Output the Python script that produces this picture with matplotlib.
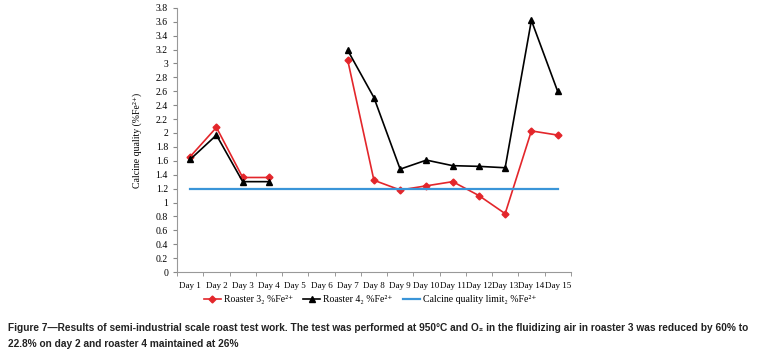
import numpy as np
import matplotlib
matplotlib.use("Agg")
import matplotlib.pyplot as plt

days = ["Day %d" % i for i in range(1, 16)]
roaster3 = [1.66, 2.08, 1.36, 1.36, np.nan, np.nan, 3.05, 1.32, 1.18, 1.24, 1.30, 1.10, 0.84, 2.03, 1.97]
roaster4 = [1.62, 1.97, 1.30, 1.30, np.nan, np.nan, 3.19, 2.51, 1.48, 1.61, 1.53, 1.52, 1.50, 3.62, 2.60]
limit = [1.2] * 15
yticks = [round(0.2 * i, 1) for i in range(20)]

serif = ["Liberation Serif", "DejaVu Serif"]
fig = plt.figure(figsize=(7.6, 3.57), dpi=100)
ax = fig.add_axes([0.233, 0.238, 0.518, 0.740])

x = np.arange(len(days))
ax.plot(x, roaster3, color="#e3262b", marker="D", markersize=3.5, lw=1.2,
        label="Roaster 3\u2082 %Fe\u00b2\u207a")
ax.plot(x, roaster4, color="black", marker="^", markersize=5, lw=1.2,
        label="Roaster 4\u2082 %Fe\u00b2\u207a")
ax.plot(x, limit, color="#3a95d8", lw=1.6, label="Calcine quality limit\u2082 %Fe\u00b2\u207a")

ax.set_xlim(-0.5, len(days) - 0.5)
ax.set_ylim(0, 3.8)
ax.set_xticks(x)
ax.set_xticklabels(days, fontfamily=serif, fontsize=6.5)
ax.set_xticks(np.arange(-0.5, len(days)), minor=True)
ax.tick_params(axis="x", which="major", length=0, pad=7)
ax.tick_params(axis="x", which="minor", length=3, color="#888888")
ax.set_yticks(yticks)
ax.set_yticklabels(["%g" % v for v in yticks], fontfamily=serif, fontsize=7)
ax.tick_params(axis="y", length=3, color="#888888")
ax.set_ylabel("Calcine quality (%Fe\u00b2\u207a)", fontfamily=serif, fontsize=7, labelpad=10)
for s in ["top", "right"]:
    ax.spines[s].set_visible(False)
for s in ["left", "bottom"]:
    ax.spines[s].set_color("#999999")

ax.legend(loc="upper center", bbox_to_anchor=(0.49, -0.055), ncol=3, frameon=False,
          prop={"family": serif, "size": 7}, handlelength=1.8, columnspacing=1.0,
          handletextpad=0.3)

cap = ("Figure 7\u2014Results of semi-industrial scale roast test work. The test was performed at 950\u00b0C and O\u2082 in the fluidizing air in roaster 3 was reduced by 60% to\n"
       "22.8% on day 2 and roaster 4 maintained at 26%")
fig.text(0.011, 0.095, cap, fontfamily=["Liberation Sans", "DejaVu Sans"],
         fontweight="bold", fontsize=7.3, va="top", ha="left", linespacing=1.7, color="#222222")

fig.savefig("out.png", dpi=100)
